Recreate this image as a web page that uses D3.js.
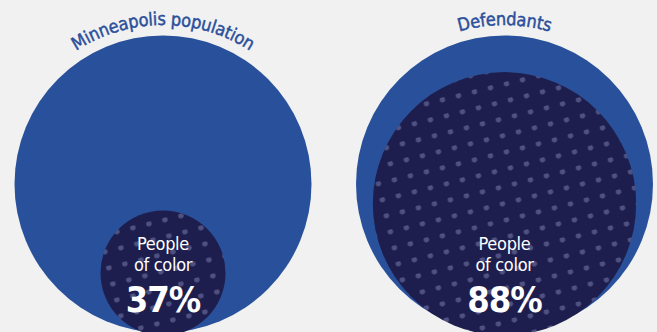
<!DOCTYPE html>
<html>
<head>
<meta charset="utf-8">
<script src="https://cdn.jsdelivr.net/npm/d3@7"></script>
<style>
  html, body { margin: 0; padding: 0; background: #f1f1f1; }
  svg { display: block; }
  .lbl { font-family: "Liberation Sans Narrow", "DejaVu Sans Condensed", Roboto, sans-serif; font-stretch: condensed; }
</style>
</head>
<body>
<svg id="chart"></svg>
<script>
// data
const groups = ['Minneapolis population', 'Defendants'];
const shareOfColor = [37, 88];
const subLabel = ['People', 'of color'];

const width = 657, height = 332;
const outerR = 148.5;
const cy = 184;

const svg = d3.select('#chart')
    .attr('width', width)
    .attr('height', height);

svg.append('rect')
    .attr('width', width)
    .attr('height', height)
    .attr('fill', '#f1f1f1');

// dot texture for the inner circles
const defs = svg.append('defs');
const pat = defs.append('pattern')
    .attr('id', 'dots')
    .attr('patternUnits', 'userSpaceOnUse')
    .attr('width', 16.5)
    .attr('height', 16.5)
    .attr('patternTransform', 'rotate(-14)');
pat.append('rect')
    .attr('width', 16.5)
    .attr('height', 16.5)
    .attr('fill', '#1d1e4e');
pat.append('circle')
    .attr('cx', 9.7)
    .attr('cy', 2.1)
    .attr('r', 2.7)
    .attr('fill', '#4e5181');

const xscale = d3.scalePoint()
    .domain(groups)
    .range([163, 504.5]);

// inner radius from share
const rscale = d3.scalePow()
    .exponent(0.86)
    .domain([0, 100])
    .range([0, 147]);

const data = groups.map((g, i) => ({ group: g, share: shareOfColor[i] }));

const g = svg.selectAll('g.grp')
    .data(data)
    .join('g')
    .attr('class', 'grp')
    .attr('transform', d => `translate(${xscale(d.group)}, ${cy})`);

g.append('circle')
    .attr('r', outerR)
    .attr('fill', '#29519b');

g.append('circle')
    .attr('cy', d => outerR - rscale(d.share) + 3)
    .attr('r', d => rscale(d.share))
    .attr('fill', 'url(#dots)');

// curved titles
const arcR = 159;
g.append('path')
    .attr('id', (d, i) => 'arc' + i)
    .attr('fill', 'none')
    .attr('d', `M ${-arcR} 0 A ${arcR} ${arcR} 0 0 1 ${arcR} 0`);

g.append('text')
    .attr('class', 'lbl')
    .style('font-size', '18px')
    .style('letter-spacing', '-0.2px')
    .attr('fill', '#2b4f9a')
    .attr('stroke', '#2b4f9a')
    .attr('stroke-width', 0.45)
    .append('textPath')
    .attr('href', (d, i) => '#arc' + i)
    .attr('startOffset', '50%')
    .attr('text-anchor', 'middle')
    .text(d => d.group);

// inner labels
subLabel.forEach((t, k) => {
    g.append('text')
        .attr('class', 'lbl')
        .attr('text-anchor', 'middle')
        .attr('x', 0)
        .attr('y', 66 + k * 21)
        .attr('fill', '#ffffff')
        .style('font-size', '18px')
        .style('letter-spacing', '-0.3px')
        .text(t);
});

g.append('text')
    .attr('class', 'lbl')
    .attr('text-anchor', 'middle')
    .attr('x', 0)
    .attr('y', 128)
    .attr('fill', '#ffffff')
    .style('font-size', '36px')
    .style('letter-spacing', '-1px')
    .style('font-weight', 'bold')
    .text(d => d.share + '%');
</script>
</body>
</html>
